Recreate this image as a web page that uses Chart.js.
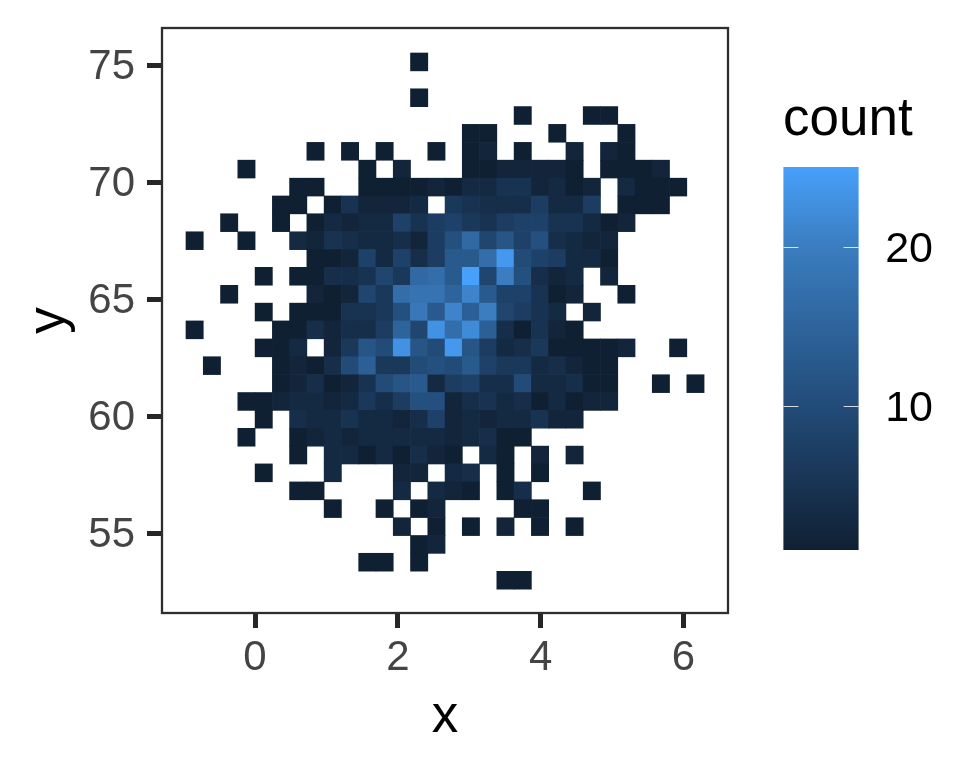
<!DOCTYPE html>
<html>
<head>
<meta charset="utf-8">
<title>count heatmap</title>
<script src="https://cdn.jsdelivr.net/npm/chart.js@4"></script>
<style>
  html, body { margin: 0; padding: 0; background: #fff; }
  canvas { display: block; }
</style>
</head>
<body>
<canvas id="grafico" width="960" height="768"></canvas>
<script>
// bin centres
const xBins = [-0.846, -0.604, -0.362, -0.120, 0.122, 0.364, 0.605, 0.847, 1.089, 1.331,
  1.573, 1.815, 2.057, 2.299, 2.541, 2.783, 3.024, 3.266, 3.508, 3.750,
  3.992, 4.234, 4.476, 4.718, 4.960, 5.202, 5.443, 5.685, 5.927, 6.169];
const yBins = [75.17, 74.41, 73.64, 72.88, 72.12, 71.35, 70.59, 69.82, 69.06, 68.30,
  67.53, 66.77, 66.01, 65.24, 64.48, 63.72, 62.95, 62.19, 61.42, 60.66,
  59.90, 59.13, 58.37, 57.61, 56.84, 56.08, 55.31, 54.55, 53.79, 53.02];
const binHeight = 0.7637;

// counts, one row per y bin from the top, 0 = empty bin
const counts = [
  [0,0,0,0,0,0,0,0,0,0,0,0,0,1,0,0,0,0,0,0,0,0,0,0,0,0,0,0,0,0],
  [0,0,0,0,0,0,0,0,0,0,0,0,0,0,0,0,0,0,0,0,0,0,0,0,0,0,0,0,0,0],
  [0,0,0,0,0,0,0,0,0,0,0,0,0,1,0,0,0,0,0,0,0,0,0,0,0,0,0,0,0,0],
  [0,0,0,0,0,0,0,0,0,0,0,0,0,0,0,0,0,0,0,1,0,0,0,1,1,0,0,0,0,0],
  [0,0,0,0,0,0,0,0,0,0,0,0,0,0,0,0,1,1,0,0,0,1,0,0,0,1,0,0,0,0],
  [0,0,0,0,0,0,0,1,0,1,0,1,0,0,1,0,1,2,0,1,0,0,2,0,2,1,0,0,0,0],
  [0,0,0,1,0,0,0,0,0,0,1,0,2,0,0,0,1,1,2,2,2,2,1,0,1,1,1,2,0,0],
  [0,0,0,0,0,0,1,1,0,0,1,1,1,1,2,1,3,3,5,5,2,3,1,2,0,3,1,1,1,0],
  [0,0,0,0,0,1,1,0,1,5,2,2,2,3,0,6,5,4,4,4,7,3,3,7,0,1,1,1,0,0],
  [0,0,1,0,0,1,0,1,3,2,3,3,8,5,7,8,6,5,7,8,8,5,5,3,1,2,0,0,0,0],
  [1,0,0,1,0,0,3,2,5,4,3,3,4,2,7,11,16,9,12,8,11,4,3,2,2,0,0,0,0,0],
  [0,0,0,0,0,0,0,1,1,2,8,3,8,4,7,13,13,17,24,10,8,7,3,3,1,0,0,0,0,0],
  [0,0,0,0,1,0,1,1,4,4,5,9,6,16,17,13,25,9,20,11,4,2,3,0,2,0,0,0,0,0],
  [0,0,1,0,0,0,0,2,1,2,9,6,17,18,18,15,21,13,8,8,5,1,2,0,0,1,0,0,0,0],
  [0,0,0,0,1,0,1,1,1,5,5,6,11,19,13,21,14,20,9,7,5,3,0,2,0,0,0,0,0,0],
  [1,0,0,0,0,1,1,4,2,4,4,7,15,9,23,17,22,14,4,1,5,2,1,0,0,0,0,0,0,0],
  [0,0,0,0,1,1,3,0,2,6,12,10,23,12,10,24,12,7,3,4,6,1,1,1,1,2,0,0,1,0],
  [0,1,0,0,0,1,2,1,4,10,14,6,6,10,11,10,13,8,6,6,3,4,2,1,1,0,0,0,0,0],
  [0,0,0,0,0,1,2,4,1,2,5,10,12,13,3,7,8,4,4,10,3,3,4,1,1,0,0,1,0,1],
  [0,0,0,1,1,2,3,3,2,3,6,4,7,11,11,2,4,5,3,4,1,3,1,2,2,0,0,0,0,0],
  [0,0,0,0,1,0,4,3,3,5,3,3,2,4,8,2,3,2,3,3,5,2,2,0,0,0,0,0,0,0],
  [0,0,0,1,0,0,1,2,3,2,3,3,3,3,3,2,3,4,1,1,0,0,0,0,0,0,0,0,0,0],
  [0,0,0,0,0,0,1,0,3,3,1,3,1,4,2,1,0,3,1,0,2,0,2,0,0,0,0,0,0,0],
  [0,0,0,0,1,0,0,0,3,0,0,0,2,2,0,3,4,0,1,0,1,0,0,0,0,0,0,0,0,0],
  [0,0,0,0,0,0,1,1,0,0,0,0,3,0,3,2,1,0,1,4,0,0,0,1,0,0,0,0,0,0],
  [0,0,0,0,0,0,0,0,1,0,0,1,0,1,2,0,0,0,0,1,1,0,0,0,0,0,0,0,0,0],
  [0,0,0,0,0,0,0,0,0,0,0,0,2,0,1,0,1,0,2,0,1,0,1,0,0,0,0,0,0,0],
  [0,0,0,0,0,0,0,0,0,0,0,0,0,1,2,0,0,0,0,0,0,0,0,0,0,0,0,0,0,0],
  [0,0,0,0,0,0,0,0,0,0,1,1,0,1,0,0,0,0,0,0,0,0,0,0,0,0,0,0,0,0],
  [0,0,0,0,0,0,0,0,0,0,0,0,0,0,0,0,0,0,1,1,0,0,0,0,0,0,0,0,0,0]
];

const xTicks = [0, 2, 4, 6];
const yTicks = [55, 60, 65, 70, 75];
const legendTicks = [10, 20];

// colour ramp of the count scale
const rampCounts = [1, 10, 20, 25];
const rampColours = [[16, 32, 51], [34, 75, 120], [58, 125, 192], [71, 160, 250]];

function corDaContagem(n) {
  let i = 0;
  while (i < rampCounts.length - 2 && n > rampCounts[i + 1]) i++;
  const t = (n - rampCounts[i]) / (rampCounts[i + 1] - rampCounts[i]);
  const c = rampColours[i].map((v, k) => Math.round(v + (rampColours[i + 1][k] - v) * t));
  return 'rgb(' + c.join(',') + ')';
}

const celulas = [];
counts.forEach((linha, r) => {
  linha.forEach((n, c) => {
    if (n > 0) {
      celulas.push({
        x: xBins[c],
        y: [yBins[r] - binHeight / 2, yBins[r] + binHeight / 2],
        n: n
      });
    }
  });
});

// border of the panel and the colour bar on the right
const molduraELegenda = {
  id: 'molduraELegenda',
  beforeDraw(chart) {
    // y tick labels sit a little below their ticks
    chart.scales.y.getLabelItems().forEach(item => { item.options.translation[1] += 2; });
  },
  afterDraw(chart) {
    const ctx = chart.ctx;
    const area = chart.chartArea;
    ctx.save();
    ctx.strokeStyle = '#2E2E2E';
    ctx.lineWidth = 2.3;
    ctx.strokeRect(area.left, area.top, area.right - area.left, area.bottom - area.top);

    const barLeft = 783.4, barRight = 858.6, barTop = 167, barBottom = 550;
    const yLegenda = n => barBottom - (n - 1) / 24 * (barBottom - barTop);
    const grad = ctx.createLinearGradient(0, barBottom, 0, barTop);
    rampCounts.forEach(n => grad.addColorStop((n - 1) / 24, corDaContagem(n)));
    ctx.fillStyle = grad;
    ctx.fillRect(barLeft, barTop, barRight - barLeft, barBottom - barTop);

    ctx.strokeStyle = 'rgba(255,255,255,0.8)';
    ctx.lineWidth = 1;
    ctx.fillStyle = '#000000';
    ctx.font = '43px "Liberation Sans"';
    ctx.textAlign = 'right';
    ctx.textBaseline = 'middle';
    legendTicks.forEach(n => {
      const y = Math.round(yLegenda(n)) + 0.5;
      ctx.beginPath();
      ctx.moveTo(barLeft, y);
      ctx.lineTo(barLeft + 15, y);
      ctx.moveTo(barRight - 15, y);
      ctx.lineTo(barRight, y);
      ctx.stroke();
      ctx.fillText(String(n), 933, y + 3);
    });

    ctx.font = '53px "Liberation Sans"';
    ctx.textAlign = 'left';
    ctx.textBaseline = 'alphabetic';
    ctx.fillText('count', 783, 135);
    ctx.restore();
  }
};

new Chart(document.getElementById('grafico'), {
  type: 'bar',
  data: {
    datasets: [{
      label: 'count',
      data: celulas,
      barThickness: 17.27,
      borderWidth: 0,
      grouped: false,
      backgroundColor: ctx => corDaContagem(ctx.raw.n)
    }]
  },
  options: {
    responsive: false,
    animation: false,
    layout: { padding: { top: 28, right: 232, left: 0, bottom: 0 } },
    plugins: { legend: { display: false }, tooltip: { enabled: false } },
    scales: {
      x: {
        type: 'linear',
        offset: false,
        min: -1.303,
        max: 6.625,
        afterFit: scale => { scale.height = 155; scale.paddingLeft = 0; scale.paddingRight = 0; },
        afterBuildTicks: scale => { scale.ticks = xTicks.map(v => ({ value: v })); },
        grid: { offset: false, drawOnChartArea: false, tickLength: 15, tickWidth: 5, tickColor: '#262626' },
        border: { display: false },
        ticks: {
          color: '#444444',
          font: { family: '"Liberation Sans"', size: 42 },
          padding: 5,
          maxRotation: 0,
          callback: v => String(v)
        },
        title: {
          display: true,
          text: 'x',
          color: '#000000',
          font: { family: '"Liberation Sans"', size: 53 },
          padding: { top: 0, bottom: 19 }
        }
      },
      y: {
        type: 'linear',
        min: 51.62,
        max: 76.62,
        afterFit: scale => { scale.width = 162; scale.paddingTop = 0; scale.paddingBottom = 0; },
        afterBuildTicks: scale => { scale.ticks = yTicks.map(v => ({ value: v })); },
        grid: { drawOnChartArea: false, tickLength: 15, tickWidth: 5, tickColor: '#262626' },
        border: { display: false },
        ticks: {
          color: '#444444',
          font: { family: '"Liberation Sans"', size: 42 },
          padding: 12,
          callback: v => String(v)
        },
        title: {
          display: true,
          text: 'y',
          color: '#000000',
          font: { family: '"Liberation Sans"', size: 53 },
          padding: { top: 18, bottom: 0 }
        }
      }
    }
  },
  plugins: [molduraELegenda]
});
</script>
</body>
</html>
